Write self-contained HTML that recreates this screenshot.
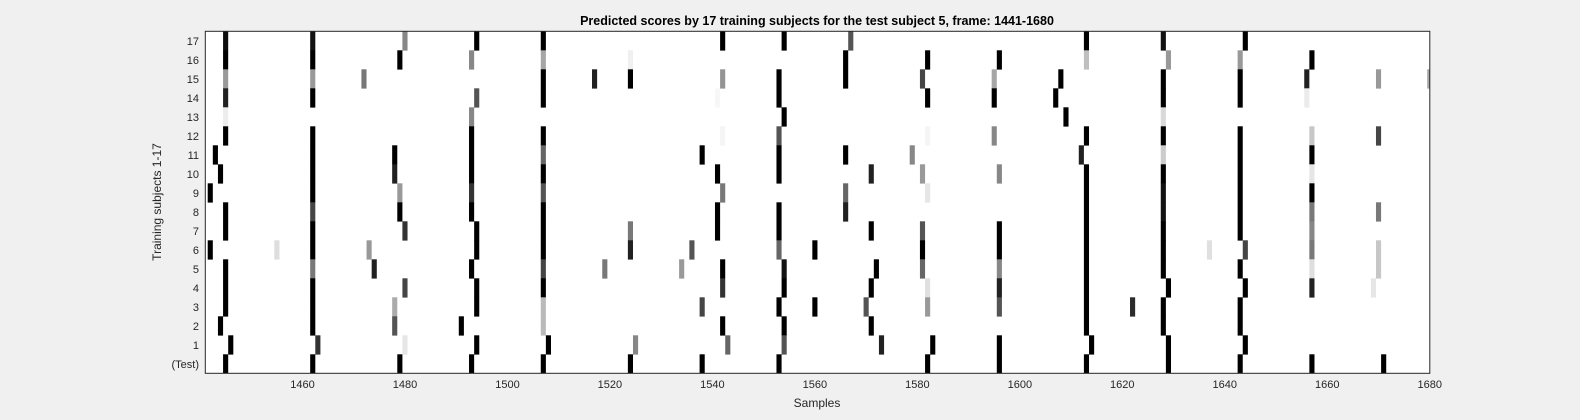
<!DOCTYPE html>
<html><head><meta charset="utf-8"><style>
html,body{margin:0;padding:0;background:#f0f0f0;}
svg{display:block;font-family:"Liberation Sans",sans-serif;}
</style></head><body>
<svg id="chart" width="1580" height="420">
<rect x="0" y="0" width="1580" height="420" fill="#f0f0f0"/>
<text x="817" y="25" text-anchor="middle" font-size="12.5" font-weight="bold" fill="#000">Predicted scores by 17 training subjects for the test subject 5, frame: 1441-1680</text>
<defs><clipPath id="pc"><rect x="205.3" y="31.3" width="1224.5" height="342"/></clipPath></defs>
<rect x="205.3" y="31.3" width="1224.5" height="342" fill="#fff"/>
<g id="cells" clip-path="url(#pc)"></g>
<rect x="205.3" y="31.3" width="1224.5" height="342" fill="none" stroke="#262626" stroke-width="1"/>
<g id="xticks"></g>
<g id="yticks"></g>
<text x="817" y="407" text-anchor="middle" font-size="12" fill="#262626">Samples</text>
<text transform="translate(161,202) rotate(-90)" text-anchor="middle" font-size="12" fill="#262626">Training subjects 1-17</text>
</svg>
<script>
const xTicks = [1460,1480,1500,1520,1540,1560,1580,1600,1620,1640,1660,1680];
const rowLabels = ["17","16","15","14","13","12","11","10","9","8","7","6","5","4","3","2","1","(Test)"];
// each row: [sample, score darkness 0..1], rows ordered top (17) to bottom (Test)
const row17 = [[1445,.95],[1462,.93],[1480,.47],[1494,1],[1507,1],[1542,1],[1554,1],[1567,.67],[1613,1],[1628,.93],[1644,1]];
const row16 = [[1445,1],[1462,1],[1479,1],[1493,.47],[1507,.35],[1524,.06],[1566,1],[1582,1],[1596,1],[1613,.25],[1629,.4],[1643,.4],[1657,1]];
const row15 = [[1445,.4],[1462,.4],[1472,.53],[1507,1],[1517,.87],[1524,1],[1542,.42],[1553,1],[1566,1],[1581,.73],[1595,.35],[1608,1],[1628,1],[1643,1],[1656,.87],[1670,.4],[1680,.35]];
const row14 = [[1445,.87],[1462,1],[1494,.67],[1507,1],[1541,.03],[1553,1],[1582,1],[1595,1],[1607,1],[1628,1],[1643,1],[1656,.08]];
const row13 = [[1445,.07],[1493,.47],[1554,1],[1609,1],[1628,.15]];
const row12 = [[1445,1],[1462,1],[1493,1],[1507,1],[1542,.04],[1553,.67],[1582,.04],[1595,.47],[1613,1],[1628,1],[1643,1],[1657,.22],[1670,.73]];
const row11 = [[1443,1],[1462,1],[1478,1],[1493,1],[1507,.6],[1538,1],[1553,1],[1566,1],[1579,.47],[1612,.87],[1628,.2],[1643,1],[1657,1]];
const row10 = [[1444,1],[1462,1],[1478,.87],[1493,1],[1507,1],[1541,1],[1553,1],[1571,.87],[1581,.4],[1596,.47],[1613,1],[1628,1],[1643,1],[1657,.1]];
const row9 = [[1442,1],[1462,1],[1479,.4],[1493,.8],[1507,.67],[1542,.53],[1566,.6],[1582,.1],[1613,1],[1628,.93],[1643,1],[1657,1]];
const row8 = [[1445,1],[1462,.73],[1479,1],[1493,1],[1507,1],[1541,1],[1553,1],[1566,.87],[1613,1],[1628,.93],[1643,1],[1657,.53],[1670,.53]];
const row7 = [[1445,1],[1462,1],[1480,.8],[1494,1],[1507,1],[1524,.53],[1541,1],[1553,1],[1571,1],[1581,.67],[1596,1],[1613,1],[1628,1],[1643,1],[1657,.47]];
const row6 = [[1442,1],[1455,.13],[1462,1],[1473,.4],[1494,1],[1507,1],[1524,.87],[1536,.67],[1553,.6],[1560,1],[1581,1],[1596,1],[1613,1],[1628,1],[1637,.12],[1644,.73],[1657,.53],[1670,.22]];
const row5 = [[1445,1],[1462,.53],[1474,.87],[1493,1],[1507,.73],[1519,.53],[1534,.4],[1542,1],[1554,.93],[1572,1],[1581,.6],[1596,.47],[1613,1],[1628,1],[1643,1],[1657,.13],[1670,.22]];
const row4 = [[1445,1],[1462,1],[1480,.73],[1494,1],[1507,1],[1542,.8],[1554,1],[1571,1],[1582,.12],[1596,.87],[1613,1],[1629,1],[1644,1],[1657,.87],[1669,.1]];
const row3 = [[1445,1],[1462,1],[1478,.33],[1494,1],[1507,.27],[1538,.73],[1553,1],[1560,1],[1570,.67],[1582,.4],[1596,.67],[1613,1],[1622,.83],[1628,1],[1643,1]];
const row2 = [[1444,1],[1462,1],[1478,.67],[1491,1],[1507,.27],[1542,1],[1554,1],[1571,1],[1613,1],[1628,1],[1643,1]];
const row1 = [[1446,1],[1463,.8],[1480,.1],[1494,1],[1508,1],[1525,.47],[1543,.6],[1554,.67],[1573,.87],[1583,1],[1596,1],[1614,1],[1629,1],[1644,1]];
const rowTest = [[1445,1],[1462,1],[1479,1],[1493,1],[1507,1],[1524,1],[1538,1],[1553,1],[1582,1],[1596,1],[1613,1],[1629,1],[1643,1],[1657,1],[1671,1]];
const rowsData = [row17,row16,row15,row14,row13,row12,row11,row10,row9,row8,row7,row6,row5,row4,row3,row2,row1,rowTest];

const NS = "http://www.w3.org/2000/svg";
const cellW = 5.124;
function xLeft(s){ return 207.7 + (s - 1442) * cellW; }
function xCenter(s){ return xLeft(s) + cellW / 2; }
const rowH = 342 / 18;
function yTop(i){ return 31.3 + i * rowH; }
function shade(v){ const g = Math.round(255 * (1 - v)); return "rgb(" + g + "," + g + "," + g + ")"; }

const cellsG = document.getElementById("cells");
rowsData.forEach(function(row, i){
  row.forEach(function(c){
    const r = document.createElementNS(NS, "rect");
    r.setAttribute("x", xLeft(c[0]).toFixed(2));
    r.setAttribute("y", yTop(i).toFixed(2));
    r.setAttribute("width", cellW.toFixed(3));
    r.setAttribute("height", (rowH + 0.3).toFixed(2));
    r.setAttribute("fill", shade(c[1]));
    
    
    cellsG.appendChild(r);
  });
});

const xg = document.getElementById("xticks");
xTicks.forEach(function(t){
  const tx = document.createElementNS(NS, "text");
  tx.setAttribute("x", xCenter(t).toFixed(1));
  tx.setAttribute("y", "388");
  tx.setAttribute("text-anchor", "middle");
  tx.setAttribute("font-size", "11");
  tx.setAttribute("fill", "#262626");
  tx.textContent = t;
  
  
  xg.appendChild(tx);
});

const yg = document.getElementById("yticks");
rowLabels.forEach(function(lbl, i){
  const tx = document.createElementNS(NS, "text");
  tx.setAttribute("x", "199");
  tx.setAttribute("y", (yTop(i) + rowH / 2 + 4).toFixed(1));
  tx.setAttribute("text-anchor", "end");
  tx.setAttribute("font-size", "11");
  tx.setAttribute("fill", "#262626");
  tx.textContent = lbl;
  
  
  yg.appendChild(tx);
});
</script>
</body></html>
